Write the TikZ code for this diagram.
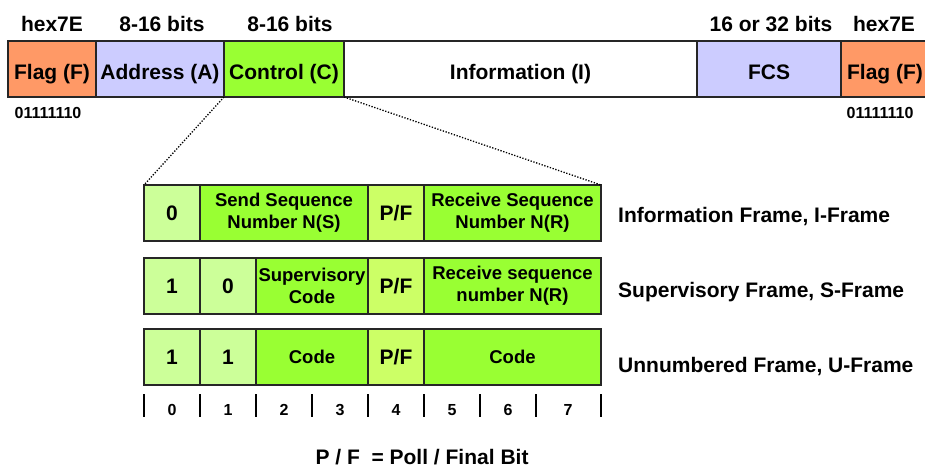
\documentclass[tikz,border=0pt]{standalone}
\usepackage{fontspec}
\setmainfont{Liberation Sans}
\usepackage{xcolor}
\usetikzlibrary{positioning}
\definecolor{flagorange}{HTML}{FF9966}
\definecolor{addrblue}{HTML}{CCCCFF}
\definecolor{ctrlgreen}{HTML}{99FF33}
\definecolor{bitgreen}{HTML}{CCFF99}
\definecolor{pfgreen}{HTML}{CCFF66}

\begin{document}
\begin{tikzpicture}[x=1pt, y=-1pt,
  field/.style={draw=black!85, line width=1.3pt, inner sep=0pt, outer sep=0pt,
    minimum height=56pt, align=center, font=\bfseries\fontsize{21}{23}\selectfont},
  topfield/.style={field, text height=22pt, text depth=0pt},
  cell/.style={field, font=\bfseries\fontsize{18.5}{22}\selectfont},
  bitcell/.style={field, fill=bitgreen, minimum width=56pt},
  pfcell/.style={field, fill=pfgreen, minimum width=56pt},
  lbl/.style={inner sep=0pt, anchor=base, font=\bfseries\fontsize{21}{23}\selectfont},
  small/.style={inner sep=0pt, anchor=base, font=\bfseries\fontsize{16}{18}\selectfont}
]
  \useasboundingbox (0,0) rectangle (925,468);

  % HDLC frame
  \node[topfield, fill=flagorange, minimum width=88pt, anchor=north west] (flagL) at (8,41) {Flag (F)};
  \node[topfield, fill=addrblue, minimum width=128pt, right=0pt of flagL] (addr) {Address (A)};
  \node[topfield, fill=ctrlgreen, minimum width=120pt, right=0pt of addr] (ctrl) {Control (C)};
  \node[topfield, fill=white, minimum width=353pt, right=0pt of ctrl] (info) {Information (I)};
  \node[topfield, fill=addrblue, minimum width=144pt, right=0pt of info] (fcs) {FCS};
  \node[topfield, fill=flagorange, minimum width=88pt, right=0pt of fcs] (flagR) {Flag (F)};

  % Field sizes
  \node[lbl] (hexL) at (52,32) {hex7E};
  \node[lbl] (addrsize) at (162,32) {8-16 bits};
  \node[lbl] (ctrlsize) at (290,32) {8-16 bits};
  \node[lbl] (fcssize) at (771,32) {16 or 32 bits};
  \node[lbl] (hexR) at (884,32) {hex7E};
  \node[small] (bitsL) at (48,118) {01111110};
  \node[small] (bitsR) at (880,118) {01111110};

  % I-frame
  \node[bitcell, anchor=north west] (i0) at (144,185) {0};
  \node[cell, fill=ctrlgreen, minimum width=168pt, right=0pt of i0] (isend) {Send Sequence\\Number N(S)};
  \node[pfcell, right=0pt of isend] (ipf) {P/F};
  \node[cell, fill=ctrlgreen, minimum width=177pt, right=0pt of ipf] (irecv) {Receive Sequence\\Number N(R)};

  % S-frame
  \node[bitcell, anchor=north west] (s0) at (144,258) {1};
  \node[bitcell, right=0pt of s0] (s1) {0};
  \node[cell, fill=ctrlgreen, minimum width=112pt, right=0pt of s1] (scode) {Supervisory\\Code};
  \node[pfcell, right=0pt of scode] (spf) {P/F};
  \node[cell, fill=ctrlgreen, minimum width=177pt, right=0pt of spf] (srecv) {Receive sequence\\number N(R)};

  % U-frame
  \node[bitcell, anchor=north west] (u0) at (144,329) {1};
  \node[bitcell, right=0pt of u0] (u1) {1};
  \node[cell, fill=ctrlgreen, minimum width=112pt, right=0pt of u1] (ucode) {Code};
  \node[pfcell, right=0pt of ucode] (upf) {P/F};
  \node[cell, fill=ctrlgreen, minimum width=177pt, right=0pt of upf] (ucode2) {Code};

  % Zoom into the control field
  \draw[line width=1.3pt, dash pattern=on 1.3pt off 1.6pt] (ctrl.south west) -- (i0.north west);
  \draw[line width=1.3pt, dash pattern=on 1.3pt off 1.6pt] (ctrl.south east) -- (irecv.north east);

  % Frame names
  \node[lbl, anchor=base west] (iname) at (618,222) {Information Frame, I-Frame};
  \node[lbl, anchor=base west] (sname) at (618,297) {Supervisory Frame, S-Frame};
  \node[lbl, anchor=base west] (uname) at (618,372) {Unnumbered Frame, U-Frame};

  % Bit positions
  \foreach \x in {144,200,256,312,368,424,480,536,601}{
    \draw[line width=1.3pt] (\x,394) -- (\x,417);
  }
  \foreach \b/\x in {0/172,1/228,2/284,3/340,4/396,5/452,6/508,7/568}{
    \node[small] (bit\b) at (\x,415) {\b};
  }

  \node[lbl] (pfnote) at (422,464) {P / F\ \ = Poll / Final Bit};
\end{tikzpicture}
\end{document}
